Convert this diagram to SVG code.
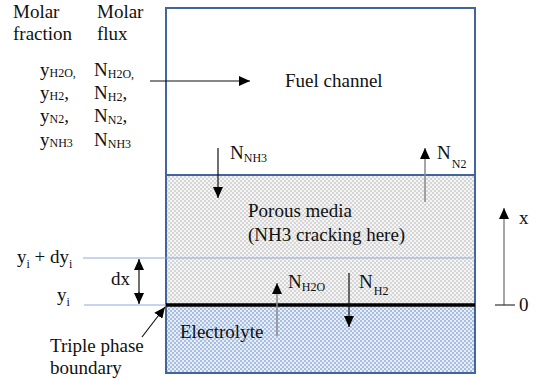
<svg xmlns="http://www.w3.org/2000/svg" width="536" height="380" viewBox="0 0 536 380">
<style>
text{font-family:'Liberation Serif','DejaVu Serif',serif;font-size:19px;fill:#111}
.sub{font-size:12px}
.box{stroke:#41659c;stroke-width:2}
.blk{stroke:#111;stroke-width:1.2;fill:none}
.gry{stroke:#888;stroke-width:1.5;fill:none}
.thin{stroke:#8eaadb;stroke-width:1.2}
</style>
<defs>
<pattern id="porous" width="4" height="4" patternUnits="userSpaceOnUse">
<rect width="4" height="4" fill="#f4f4f4"/>
<rect width="2" height="2" fill="#d6d6d6"/>
<rect x="2" y="2" width="2" height="2" fill="#d6d6d6"/>
</pattern>
<pattern id="elec" width="4" height="4" patternUnits="userSpaceOnUse">
<rect width="4" height="4" fill="#e8eef8"/>
<rect width="2" height="2" fill="#a8bde2"/>
<rect x="2" y="2" width="2" height="2" fill="#a8bde2"/>
</pattern>
<marker id="ah" markerUnits="userSpaceOnUse" markerWidth="12" markerHeight="10" refX="11" refY="5" orient="auto">
<path d="M0,0 L11,5 L0,10 Z" fill="#000"/>
</marker>
</defs>

<g id="fuel-channel">
<rect x="166" y="8" width="309" height="167" fill="#fff" class="box"/>
<text x="285" y="87" font-family="Liberation Serif">Fuel channel</text>
</g>
<g id="porous-media">
<rect x="166" y="175" width="309" height="130" fill="url(#porous)" class="box"/>
<text x="248" y="217">Porous media</text>
<text x="248" y="241">(NH3 cracking here)</text>
</g>
<g id="electrolyte">
<rect x="166" y="305" width="309" height="68" fill="url(#elec)" class="box"/>
<text x="180" y="338">Electrolyte</text>
</g>

<g id="connectors">
<line x1="83" y1="258" x2="475" y2="258" class="thin"/>
<line x1="84" y1="305" x2="166" y2="305" class="thin"/>
<line x1="166" y1="305" x2="475" y2="305" stroke="#000" stroke-width="3.5"/>
<line x1="150" y1="81" x2="250" y2="81" class="blk" marker-end="url(#ah)"/>
<line x1="218" y1="148" x2="218" y2="198" class="blk" marker-end="url(#ah)"/>
<line x1="425" y1="202" x2="425" y2="148" class="gry" marker-end="url(#ah)"/>
<line x1="277" y1="336" x2="277" y2="283" class="gry" marker-end="url(#ah)"/>
<line x1="349" y1="273" x2="349" y2="327" class="blk" marker-end="url(#ah)"/>
<line x1="139" y1="270" x2="139" y2="259" class="blk" marker-end="url(#ah)"/>
<line x1="139" y1="292" x2="139" y2="304" class="blk" marker-end="url(#ah)"/>
<line x1="139" y1="260" x2="139" y2="303" class="blk"/>
<line x1="142" y1="337" x2="165" y2="307" class="blk" marker-end="url(#ah)"/>
<line x1="504" y1="305" x2="504" y2="208" class="gry" marker-end="url(#ah)"/>
<line x1="495" y1="305" x2="515" y2="305" stroke="#333" stroke-width="1.2"/>
</g>

<g id="labels">
<text x="13" y="18">Molar</text>
<text x="13" y="40">fraction</text>
<text x="97" y="18">Molar</text>
<text x="97" y="40">flux</text>
<text x="40" y="76">y<tspan class="sub" dy="1">H2O,</tspan></text>
<text x="40" y="99">y<tspan class="sub" dy="1">H2</tspan><tspan dy="-1">,</tspan></text>
<text x="40" y="122">y<tspan class="sub" dy="1">N2</tspan><tspan dy="-1">,</tspan></text>
<text x="40" y="146">y<tspan class="sub" dy="1">NH3</tspan></text>
<text x="94" y="76">N<tspan class="sub" dy="2">H2O,</tspan></text>
<text x="94" y="99">N<tspan class="sub" dy="2">H2</tspan><tspan dy="-2">,</tspan></text>
<text x="94" y="122">N<tspan class="sub" dy="2">N2</tspan><tspan dy="-2">,</tspan></text>
<text x="94" y="146">N<tspan class="sub" dy="2">NH3</tspan></text>
<text x="230" y="159">N<tspan class="sub" dy="3">NH3</tspan></text>
<text x="437" y="159">N<tspan class="sub" dx="1" dy="9">N2</tspan></text>
<text x="288" y="288">N<tspan class="sub" dy="3">H2O</tspan></text>
<text x="359" y="288">N<tspan class="sub" dx="1" dy="7">H2</tspan></text>
<text x="519" y="224">x</text>
<text x="519" y="311">0</text>
<text x="17" y="263">y<tspan class="sub" dy="5">i</tspan><tspan dy="-5"> + dy</tspan><tspan class="sub" dy="5">i</tspan></text>
<text x="57" y="301">y<tspan class="sub" dy="5">i</tspan></text>
<text x="111" y="285">dx</text>
<text x="50" y="352">Triple phase</text>
<text x="50" y="374">boundary</text>
</g>
</svg>
